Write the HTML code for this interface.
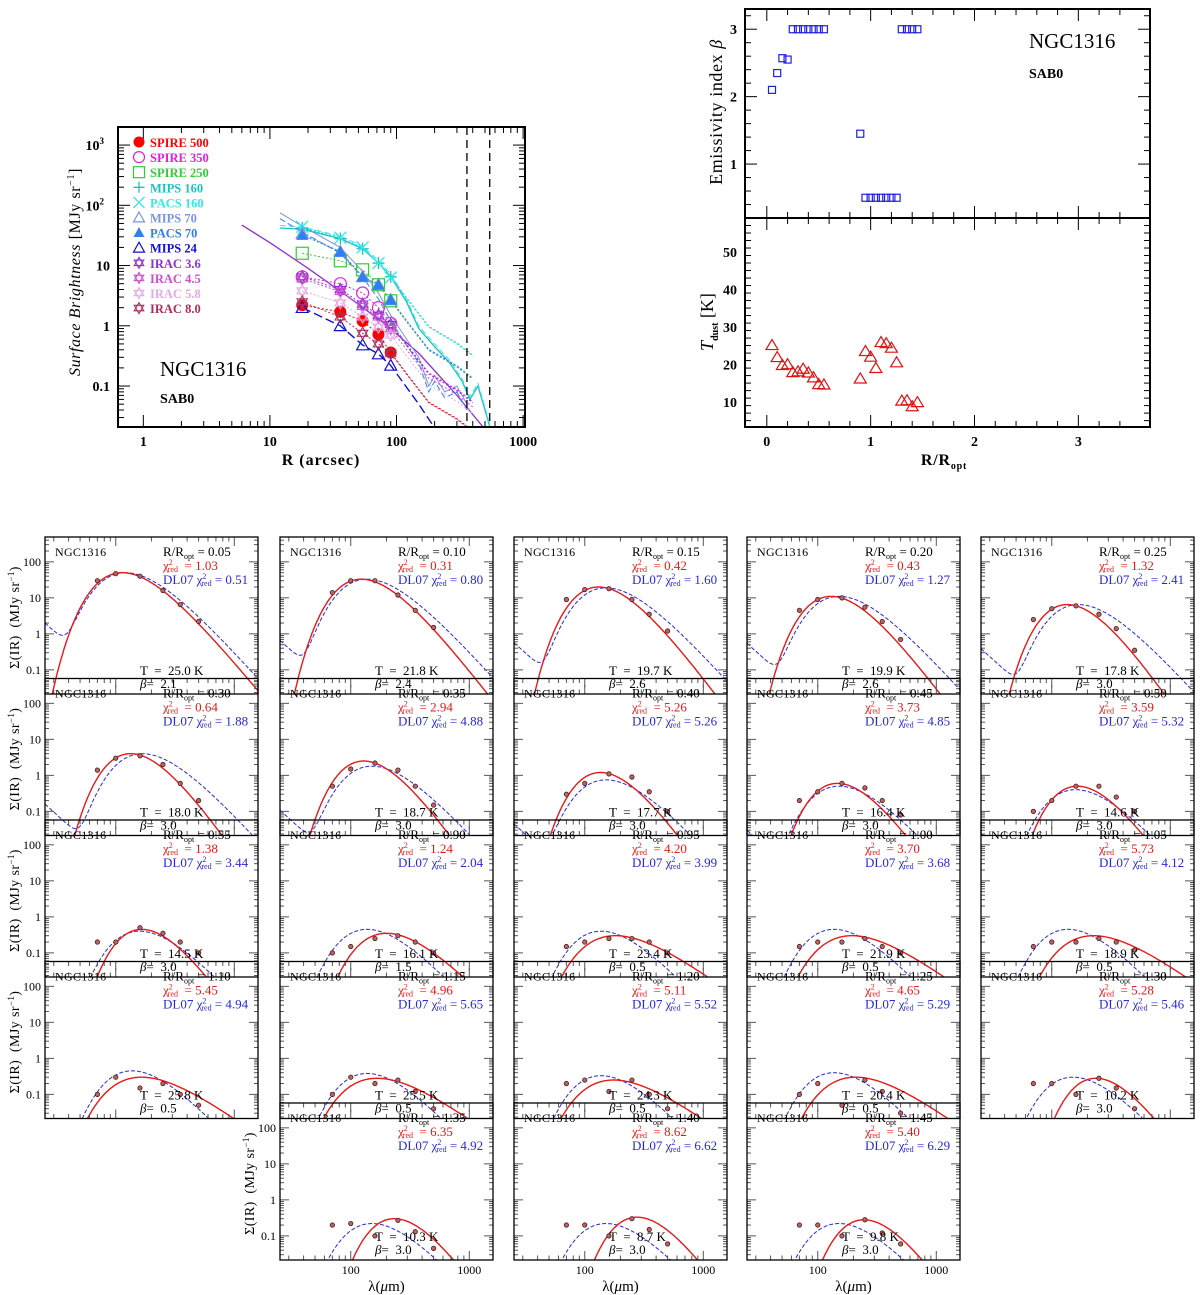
<!DOCTYPE html>
<html><head><meta charset="utf-8"><style>
html,body{margin:0;padding:0;background:#fff}
svg{display:block;font-family:"Liberation Serif","DejaVu Serif",serif}
.pre{white-space:pre}
</style></head><body>
<svg id="fig" xmlns="http://www.w3.org/2000/svg" width="1200" height="1295" viewBox="0 0 1200 1295"></svg>
<script>
// ---------- Data: radial profiles ----------
const profR = [18, 36, 54, 72, 90];
const bandNames = ["SPIRE 500","SPIRE 350","SPIRE 250","MIPS 160","PACS 160","MIPS 70","PACS 70","MIPS 24","IRAC 3.6","IRAC 4.5","IRAC 5.8","IRAC 8.0"];
const bandColors = ["#ff0000","#e020e0","#33cc33","#20c0c0","#30e8e8","#7896e0","#2f80ee","#1010d0","#9030d0","#c850c8","#e6a8e6","#a83060"];
const bandSymbols = ["fcircle","ocircle","square","plus","cross","otri","ftri","otri","star","star","star","star"];
const sp500 = [2.2,1.7,1.2,0.72,0.36];
const sp350 = [6.5,5.0,3.5,2.0,1.1];
const sp250 = [16,12,8.5,4.8,2.6];
const mips160 = [42,28,19,11,6.5];
const pacs160 = [44,29,20,11,6.3];
const mips70 = [34,17,6.5,4.8,2.7];
const pacs70 = [32,17,6.5,4.8,2.7];
const mips24 = [2.0,1.0,0.48,0.34,0.22];
const irac36 = [6.5,4.0,2.3,1.5,1.05];
const irac45 = [6.0,3.7,2.1,1.4,0.9];
const irac58 = [3.8,2.4,1.4,0.95,0.7];
const irac80 = [2.5,1.4,0.75,0.5,0.35];
const bandValues = [sp500,sp350,sp250,mips160,pacs160,mips70,pacs70,mips24,irac36,irac45,irac58,irac80];
const stellarR = [6,10,20,40,80,150,300,550];
const stellarV = [47,24,9,3.2,1.1,0.35,0.07,0.015];
const cyanR = [12,18,36,54,72,90,120,150,200,260,330,380,440,500,550];
const cyanV = [42,40,28,19,11,6.5,2.5,0.9,0.45,0.25,0.12,0.06,0.1,0.04,0.02];
const blueR = [12,18,36,54,72,90,120,150,180,200,240,300,360];
const blueV = [75,45,20,8,3.5,1.5,0.6,0.3,0.1,0.15,0.08,0.1,0.05];
const apertureR = [360, 545];

// ---------- Data: beta / T vs radius ----------
const radii = [0.05,0.10,0.15,0.20,0.25,0.30,0.35,0.40,0.45,0.50,0.55,0.90,0.95,1.00,1.05,1.10,1.15,1.20,1.25,1.30,1.35,1.40,1.45];
const betas = [2.1,2.35,2.57,2.55,3,3,3,3,3,3,3,1.45,0.5,0.5,0.5,0.5,0.5,0.5,0.5,3,3,3,3];
const temps = [25.0,21.8,19.7,19.9,17.8,18.0,18.7,17.7,16.4,14.6,14.5,16.1,23.4,21.9,18.9,25.8,25.5,24.3,20.4,10.2,10.3,8.7,9.8];
const betaLabels = ["2.1","2.4","2.6","2.6","3.0","3.0","3.0","3.0","3.0","3.0","3.0","1.5","0.5","0.5","0.5","0.5","0.5","0.5","0.5","3.0","3.0","3.0","3.0"];
const chiRed = ["1.03","0.31","0.42","0.43","1.32","0.64","2.94","5.26","3.73","3.59","1.38","1.24","4.20","3.70","5.73","5.45","4.96","5.11","4.65","5.28","6.35","8.62","5.40"];
const chiDL = ["0.51","0.80","1.60","1.27","2.41","1.88","4.88","5.26","4.85","5.32","3.44","2.04","3.99","3.68","4.12","4.94","5.65","5.52","5.29","5.46","4.92","6.62","6.29"];
const mbbPeak = [50,33,20,11,6.5,4,2.5,1.2,0.6,0.5,0.45,0.35,0.3,0.3,0.3,0.3,0.28,0.25,0.3,0.28,0.3,0.33,0.28];
const dlPeak = [50,33,19,11,6.5,4,1.8,0.75,0.5,0.4,0.4,0.45,0.4,0.45,0.45,0.45,0.38,0.33,0.4,0.3,0.22,0.22,0.22];
const dlTemp = [25,22,20,20,18,18,20,20,20,19,19,22,22,22,22,22,22,22,22,20,20,20,20];
const dlWarm = [0.04,0.02,0.03,0.05,0.06,0.04,0.06,0.06,0.06,0.06,0.06,0.04,0.04,0.04,0.04,0.04,0.04,0.04,0.04,0.04,0.04,0.04,0.04];
const sedLam = [70,100,160,250,350,500];
const sedPts = [
 [30,47,40,16,6.5,2.2],[14,30,30,12,4.5,1.5],[9,17,18,9,3.5,1.2],[4.5,9,10,5.5,2.2,0.7],
 [2.5,5,6,3.5,1.4,0.35],[1.4,3,3.5,2,0.6,0.2],[0.5,1.5,2.2,1.4,0.5,0.15],[0.3,0.6,1.1,0.9,0.35,0.1],
 [0.2,0.35,0.6,0.45,0.2,0.08],[0.1,0.2,0.5,0.5,0.25,0.1],[0.2,0.2,0.5,0.35,0.2,0.1],
 [0.1,0.15,0.25,0.3,0.2,0.1],[0.15,0.2,0.25,0.25,0.2,0.1],[0.15,0.2,0.2,0.25,0.15,0.1],[0.15,0.2,0.2,0.25,0.2,0.12],
 [0.1,0.3,0.15,0.2,0.1,0.05],[0.1,0.3,0.2,0.25,0.12,0.04],[0.2,0.25,0.12,0.25,0.1,0.04],[0.1,0.2,0.05,0.25,0.12,0.03],
 [0.2,0.2,0.1,0.28,0.15,0.04],[0.2,0.22,0.1,0.27,0.13,0.045],[0.2,0.2,0.1,0.3,0.15,0.06],[0.2,0.2,0.1,0.28,0.12,0.06]];

// ---------- helpers ----------
const NS="http://www.w3.org/2000/svg", svg=document.getElementById('fig');
function mk(tag,attrs,parent,text){const e=document.createElementNS(NS,tag);for(const k in attrs)e.setAttribute(k,attrs[k]);if(text!==undefined)e.textContent=text;(parent||svg).appendChild(e);return e;}
function line(x1,y1,x2,y2,st,sw,p){return mk('line',{x1,y1,x2,y2,stroke:st||'#000','stroke-width':sw||1},p);}
const L10=Math.log10;

// ============ Panel 1: profiles ============
const P1={x0:118,x1:525,y0:127,y1:427,lx0:-0.2,lx1:3.015,ly0:-1.68,ly1:3.3};
const px1=r=>P1.x0+(L10(r)-P1.lx0)/(P1.lx1-P1.lx0)*(P1.x1-P1.x0);
const py1=v=>P1.y1-(L10(v)-P1.ly0)/(P1.ly1-P1.ly0)*(P1.y1-P1.y0);
const g1=mk('g',{});


const cp=mk('clipPath',{id:'c1'},g1);mk('rect',{x:P1.x0,y:P1.y0,width:P1.x1-P1.x0,height:P1.y1-P1.y0},cp);
const g1c=mk('g',{'clip-path':'url(#c1)'},g1);
for(let d=0;d<=3;d++)for(let m=1;m<10;m++){const r=m*Math.pow(10,d);if(L10(r)<P1.lx0||L10(r)>P1.lx1)continue;const x=px1(r),len=m===1?12:6;line(x,P1.y1,x,P1.y1-len,'#000',1,g1);line(x,P1.y0,x,P1.y0+len,'#000',1,g1);}
for(let d=-2;d<=3;d++)for(let m=1;m<10;m++){const v=m*Math.pow(10,d);if(L10(v)<P1.ly0||L10(v)>P1.ly1)continue;const y=py1(v),len=m===1?12:6;line(P1.x0,y,P1.x0+len,y,'#000',1,g1);line(P1.x1,y,P1.x1-len,y,'#000',1,g1);}
[["1",1],["10",10],["100",100],["1000",1000]].forEach(([t,r])=>{const e=mk('text',{x:px1(r),y:446,'text-anchor':'middle','font-size':14,'font-weight':'bold'},g1,t);});
[["0.1",0.1],["1",1],["10",10]].forEach(([t,v])=>{mk('text',{x:110,y:py1(v)+5,'text-anchor':'end','font-size':14,'font-weight':'bold'},g1,t);});
[[100,2],[1000,3]].forEach(([v,e])=>{const t=mk('text',{x:104,y:py1(v)+5,'text-anchor':'end','font-size':14,'font-weight':'bold'},g1,'10');mk('tspan',{dy:-6,'font-size':9},t,String(e));});
let xt=mk('text',{x:321,y:465,'text-anchor':'middle','font-size':16,'font-weight':'bold','letter-spacing':1},g1,'R (arcsec)');

let yt=mk('text',{x:0,y:0,transform:'translate(80,272) rotate(-90)','text-anchor':'middle','font-size':16,'letter-spacing':0.6},g1);

mk('tspan',{'font-style':'italic'},yt,'Surface Brightness ');mk('tspan',{},yt,'[MJy sr');mk('tspan',{dy:-6,'font-size':10},yt,'−1');mk('tspan',{dy:6},yt,']');
mk('text',{x:160,y:376,'font-size':21},g1,'NGC1316');
mk('text',{x:160,y:403,'font-size':14,'font-weight':'bold'},g1,'SAB0');
function polyl(rs,vs,col,dash,sw,p){mk('polyline',{points:rs.map((r,i)=>px1(r)+','+py1(vs[i])).join(' '),fill:'none',stroke:col,'stroke-width':sw||1,'stroke-dasharray':dash||'none'},p);}
polyl(stellarR,stellarV,'#9030d0','',1.3,g1c);
polyl(cyanR,cyanV,'#20c0c0','',1.3,g1c);
polyl(cyanR,cyanV.map(v=>v*1.1),'#30e8e8','6,3',1,g1c);
polyl(blueR,blueV,'#7896e0','',1,g1c);
polyl(blueR,blueV.map(v=>v*0.8),'#2f80ee','6,3',1,g1c);
polyl([18,36,54,72,90,150,250],[2,1,0.48,0.34,0.22,0.05,0.01],'#1010d0','9,4',1.4,g1c);
bandValues.forEach((vals,b)=>{if(b===7)return;const extR=profR.concat([120,180,300,400]);const last=vals[4];const extV=vals.concat([last*0.45,last*0.15,last*0.08,last*0.05]);polyl(extR,extV,bandColors[b],'2,2',1,g1c);});
apertureR.forEach(r=>{const l=line(px1(r),P1.y0,px1(r),P1.y1,'#000',1.3,g1);l.setAttribute('stroke-dasharray','8,5');});
function sym(type,x,y,col,s,p){
 if(type==='fcircle')return mk('circle',{cx:x,cy:y,r:s,fill:col},p);
 if(type==='ocircle')return mk('circle',{cx:x,cy:y,r:s,fill:'none',stroke:col,'stroke-width':1.2},p);
 if(type==='square')return mk('rect',{x:x-s,y:y-s,width:2*s,height:2*s,fill:'none',stroke:col,'stroke-width':1.2},p);
 if(type==='plus')return mk('path',{d:`M${x-s},${y}H${x+s}M${x},${y-s}V${y+s}`,stroke:col,'stroke-width':1.3},p);
 if(type==='cross')return mk('path',{d:`M${x-s},${y-s}L${x+s},${y+s}M${x-s},${y+s}L${x+s},${y-s}`,stroke:col,'stroke-width':1.3},p);
 if(type==='otri')return mk('path',{d:`M${x},${y-s}L${x+s},${y+s*0.8}L${x-s},${y+s*0.8}Z`,fill:'none',stroke:col,'stroke-width':1.2},p);
 if(type==='ftri')return mk('path',{d:`M${x},${y-s}L${x+s},${y+s*0.8}L${x-s},${y+s*0.8}Z`,fill:col},p);
 if(type==='star')return mk('path',{d:`M${x},${y-s}L${x+s*0.87},${y+s*0.5}L${x-s*0.87},${y+s*0.5}ZM${x},${y+s}L${x+s*0.87},${y-s*0.5}L${x-s*0.87},${y-s*0.5}Z`,fill:'none',stroke:col,'stroke-width':1.1},p);
}
bandValues.forEach((vals,b)=>{vals.forEach((v,i)=>{const e=sym(bandSymbols[b],px1(profR[i]),py1(v),bandColors[b],6,g1);});});
bandNames.forEach((n,i)=>{const y=142+i*15.1;const g=mk('g',{},g1);sym(bandSymbols[i],139,y,bandColors[i],5.5,g);mk('text',{x:150,y:y+5,'font-size':12.5,'font-weight':'bold',fill:bandColors[i]},g,n);});
mk('rect',{x:P1.x0,y:P1.y0,width:P1.x1-P1.x0,height:P1.y1-P1.y0,fill:'none',stroke:'#000','stroke-width':2},g1);

// ============ Panel 2: beta and T ============
const P2={x0:745,x1:1150,yt:9,ym:218,yb:427,rx0:-0.21,rx1:3.69};
const px2=r=>P2.x0+(r-P2.rx0)/(P2.rx1-P2.rx0)*(P2.x1-P2.x0);
const pyb=b=>P2.ym-(b-0.2)/(3.3-0.2)*(P2.ym-P2.yt);
const pyt=t=>P2.yb-(t-3.3)/(59-3.3)*(P2.yb-P2.ym);
const g2=mk('g',{});


for(let r=0;r<=3.6;r+=0.2){const x=px2(r);const maj=Math.abs(r-Math.round(r))<1e-6;const len=maj?12:6;[P2.yt,P2.ym].forEach(y=>line(x,y,x,y+len,'#000',1,g2));[P2.ym,P2.yb].forEach(y=>line(x,y,x,y-len,'#000',1,g2));}
for(let b=0.4;b<=3.3;b+=0.2){const y=pyb(b);const maj=Math.abs(b-Math.round(b))<1e-6;const len=maj?12:6;line(P2.x0,y,P2.x0+len,y,'#000',1,g2);line(P2.x1,y,P2.x1-len,y,'#000',1,g2);}
for(let t=5;t<=58;t+=2){const y=pyt(t);const maj=t%10===0;const len=maj?12:6;line(P2.x0,y,P2.x0+len,y,'#000',1,g2);line(P2.x1,y,P2.x1-len,y,'#000',1,g2);}
[1,2,3].forEach(b=>mk('text',{x:737,y:pyb(b)+5,'text-anchor':'end','font-size':14,'font-weight':'bold'},g2,String(b)));
[10,20,30,40,50].forEach(t=>mk('text',{x:737,y:pyt(t)+5,'text-anchor':'end','font-size':14,'font-weight':'bold'},g2,String(t)));
[0,1,2,3].forEach(r=>mk('text',{x:px2(r),y:446,'text-anchor':'middle','font-size':14,'font-weight':'bold'},g2,String(r)));
let t2=mk('text',{x:944,y:465,'text-anchor':'middle','font-size':16,'font-weight':'bold','letter-spacing':0.8},g2,'R/R');mk('tspan',{dy:4,'font-size':10},t2,'opt');

let yb=mk('text',{x:0,y:0,transform:'translate(722,112) rotate(-90)','text-anchor':'middle','font-size':18,'letter-spacing':0.6},g2,'Emissivity index ');mk('tspan',{'font-style':'italic'},yb,'β');

let ytt=mk('text',{x:0,y:0,transform:'translate(713,322) rotate(-90)','text-anchor':'middle','font-size':18},g2);mk('tspan',{'font-style':'italic'},ytt,'T');mk('tspan',{dy:5,'font-size':10,'font-weight':'bold'},ytt,'dust');mk('tspan',{dy:-5},ytt,'  [K]');

mk('text',{x:1029,y:48,'font-size':21},g2,'NGC1316');
mk('text',{x:1029,y:78,'font-size':14,'font-weight':'bold'},g2,'SAB0');
radii.forEach((r,i)=>{const e=mk('rect',{x:px2(r)-3.5,y:pyb(betas[i])-3.5,width:7,height:7,fill:'none',stroke:'#2020e0','stroke-width':1.2},g2);
 const x=px2(r),y=pyt(temps[i]);const t=mk('path',{d:`M${x},${y-6}L${x+6},${y+4}L${x-6},${y+4}Z`,fill:'none',stroke:'#e01010','stroke-width':1.2},g2);});
mk('rect',{x:P2.x0,y:P2.yt,width:P2.x1-P2.x0,height:P2.yb-P2.yt,fill:'none',stroke:'#000','stroke-width':2},g2);
line(P2.x0,P2.ym,P2.x1,P2.ym,'#000',2,g2);

// ============ SED panels ============
const colX=[45,280,514,747,981], rowY=[537,678.5,820,961.5,1103];
const PW=213, PH=157, LXL=L10(25.3), LXR=3.2, LYT=2.69, LYB=-1.67;
const slots=[];for(let r=0;r<4;r++)for(let c=0;c<5;c++)slots.push([c,r]);slots.push([1,4],[2,4],[3,4]);
function mbb(l,T,b){return Math.pow(l,-3-b)/(Math.exp(14388/(l*T))-1);}
const lamGrid=[];for(let i=0;i<=240;i++)lamGrid.push(Math.pow(10,LXL+(LXR-LXL)*i/240));
radii.forEach((R,k)=>{
 const [c,r]=slots[k];const X0=colX[c],Y0=rowY[r];
 const sx=l=>X0+(L10(l)-LXL)/(LXR-LXL)*PW, sy=v=>Y0+(LYT-L10(v))/(LYT-LYB)*PH;
 const g=mk('g',{});
 
 
 const cpp=mk('clipPath',{id:'cs'+k},g);mk('rect',{x:X0,y:Y0,width:PW,height:PH},cpp);
 const gc=mk('g',{'clip-path':'url(#cs'+k+')'},g);
 for(let d=1;d<=3;d++)for(let m=1;m<10;m++){const l=m*Math.pow(10,d);if(L10(l)<LXL||L10(l)>LXR)continue;const x=sx(l),len=m===1?9:4.5;line(x,Y0+PH,x,Y0+PH-len,'#555',1,g);line(x,Y0,x,Y0+len,'#555',1,g);}
 for(let d=-2;d<=2;d++)for(let m=1;m<10;m++){const v=m*Math.pow(10,d);if(L10(v)<LYB||L10(v)>LYT)continue;const y=sy(v),len=m===1?9:4;line(X0,y,X0+len,y,'#555',1,g);line(X0+PW,y,X0+PW-len,y,'#555',1,g);}
 const T=temps[k],b=parseFloat(betaLabels[k]);
 const raw=lamGrid.map(l=>mbb(l,T,b));const mx=Math.max(...raw);
 const red=raw.map(v=>v/mx*mbbPeak[k]);
 const rawd=lamGrid.map(l=>mbb(l,dlTemp[k],1.8));const mxd=Math.max(...rawd);
 const blue=rawd.map((v,i)=>v/mxd*dlPeak[k]+dlWarm[k]*dlPeak[k]*Math.pow(25.3/lamGrid[i],3));
 const pts=(arr)=>arr.map((v,i)=>{const y=Math.min(Math.max(sy(Math.max(v,1e-9)),Y0-50),Y0+PH+50);return sx(lamGrid[i]).toFixed(1)+','+y.toFixed(1);}).join(' ');
 const bl=mk('polyline',{points:pts(blue),fill:'none',stroke:'#2828d8','stroke-width':1,'stroke-dasharray':'4,2'},gc);
 
 const rl=mk('polyline',{points:pts(red),fill:'none',stroke:'#e81818','stroke-width':1.4},gc);
 
 sedPts[k].forEach((v,i)=>{const e=mk('circle',{cx:sx(sedLam[i]),cy:sy(v),r:2.2,fill:'#c06060',stroke:'#402020','stroke-width':0.8},gc);});
 mk('rect',{x:X0,y:Y0,width:PW,height:PH,fill:'none',stroke:'#000','stroke-width':1.3},g);
 mk('text',{x:X0+10,y:Y0+19,'font-size':12,'letter-spacing':0.3},g,'NGC1316');
 const t1=mk('text',{x:X0+118,y:Y0+19,'font-size':13,'class':'pre'},g,'R/R');mk('tspan',{dy:3,'font-size':8},t1,'opt');mk('tspan',{dy:-3},t1,' = '+R.toFixed(2));
 const t3=mk('text',{x:X0+118,y:Y0+33,'font-size':13,fill:'#e81818','class':'pre'},g,'χ');mk('tspan',{dy:-5,'font-size':8},t3,'2');mk('tspan',{dy:7,dx:-5,'font-size':8},t3,'red');mk('tspan',{dy:-2},t3,'  = '+chiRed[k]);
 const t4=mk('text',{x:X0+118,y:Y0+47,'font-size':13,fill:'#2828d8','class':'pre'},g,'DL07 χ');mk('tspan',{dy:-5,'font-size':8},t4,'2');mk('tspan',{dy:7,dx:-5,'font-size':8},t4,'red');mk('tspan',{dy:-2},t4,' = '+chiDL[k]);
 mk('text',{x:X0+95,y:Y0+138,'font-size':13,'class':'pre'},g,'T  =  '+T.toFixed(1)+' K');
 const tb=mk('text',{x:X0+95,y:Y0+151,'font-size':13,'class':'pre'},g);mk('tspan',{'font-style':'italic'},tb,'β');mk('tspan',{},tb,'=  '+betaLabels[k]);
 if(c===0||(r===4&&c===1)){[["100",100],["10",10],["1",1],["0.1",0.1]].forEach(([s,v])=>mk('text',{x:X0-4,y:sy(v)+4,'text-anchor':'end','font-size':12},g,s));
  const ya=mk('text',{x:0,y:0,transform:`translate(${X0-26},${Y0+PH/2+2}) rotate(-90)`,'text-anchor':'middle','font-size':14,'class':'pre','letter-spacing':0.4},g,'Σ(IR)  (MJy sr');mk('tspan',{dy:-5,'font-size':9},ya,'−1');mk('tspan',{dy:5},ya,')');
  }
 if(r===4){[["100",100],["1000",1000]].forEach(([s,v])=>mk('text',{x:sx(v),y:Y0+PH+14,'text-anchor':'middle','font-size':12},g,s));
  const xa=mk('text',{x:X0+PW/2,y:Y0+PH+31,'text-anchor':'middle','font-size':15},g,'λ(');mk('tspan',{'font-style':'italic'},xa,'μ');mk('tspan',{},xa,'m)');
  }
});
</script>
</body></html>
